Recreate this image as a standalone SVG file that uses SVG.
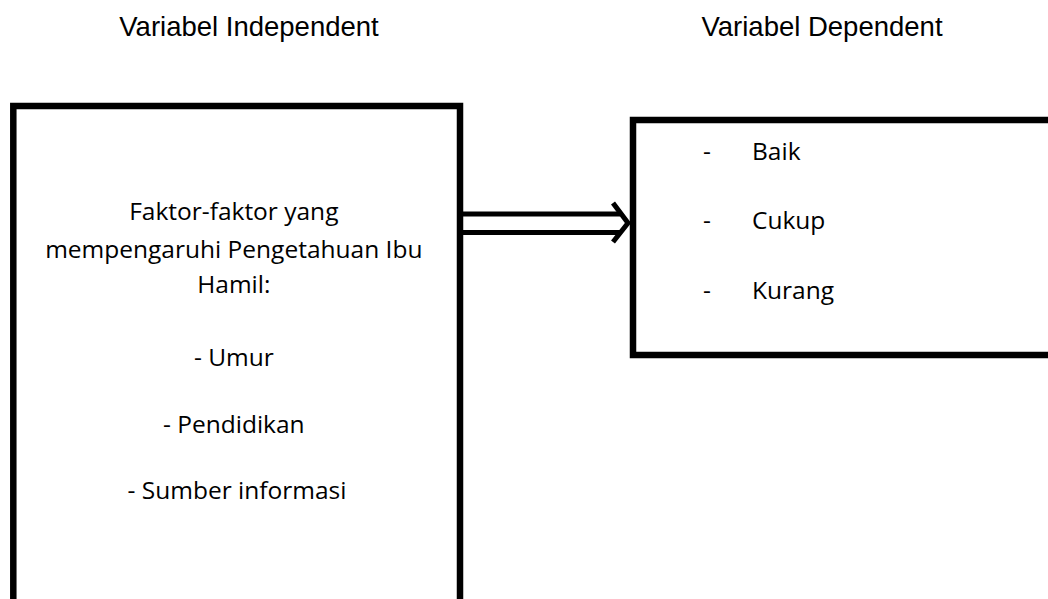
<svg xmlns="http://www.w3.org/2000/svg" width="1048" height="599" viewBox="0 0 1048 599">
<style>
.box{fill:#fff;stroke:#000;stroke-width:6.5}
.hd{font-family:"Liberation Sans",Arial,sans-serif;font-size:27.5px;fill:#000}
.tx{font-family:"Open Sans","Noto Sans",sans-serif;font-size:24.5px;fill:#000}
.ln{stroke:#000;stroke-width:5;fill:none}
</style>
<rect width="1048" height="599" fill="#fff"/>
<g id="header-independent"><text class="hd" x="249" y="36" text-anchor="middle">Variabel Independent</text></g>
<g id="header-dependent"><text class="hd" x="822" y="36" text-anchor="middle">Variabel Dependent</text></g>
<g id="node-independent">
<rect class="box" x="13.3" y="106" width="446.7" height="520"/>
<text class="tx" text-anchor="middle" x="237">
<tspan x="237" y="220">Faktor-faktor yang</tspan>
<tspan x="237" y="258">mempengaruhi Pengetahuan Ibu</tspan>
<tspan x="237" y="293">Hamil:</tspan>
<tspan x="237" y="366">- Umur</tspan>
<tspan x="237" y="433">- Pendidikan</tspan>
<tspan x="237" y="499">- Sumber informasi</tspan>
</text>
</g>
<g id="node-dependent">
<rect class="box" x="633" y="120" width="430" height="235"/>
<text class="tx"><tspan x="703" y="160">-</tspan><tspan x="752" y="160">Baik</tspan></text>
<text class="tx"><tspan x="703" y="229">-</tspan><tspan x="752" y="229">Cukup</tspan></text>
<text class="tx"><tspan x="703" y="299">-</tspan><tspan x="752" y="299">Kurang</tspan></text>
</g>
<g id="connectors">
<line class="ln" x1="460" y1="214" x2="620" y2="214"/>
<line class="ln" x1="460" y1="232.5" x2="620" y2="232.5"/>
<polyline class="ln" points="613,203 628,223 613,242" stroke-linejoin="miter"/>
</g>
</svg>
